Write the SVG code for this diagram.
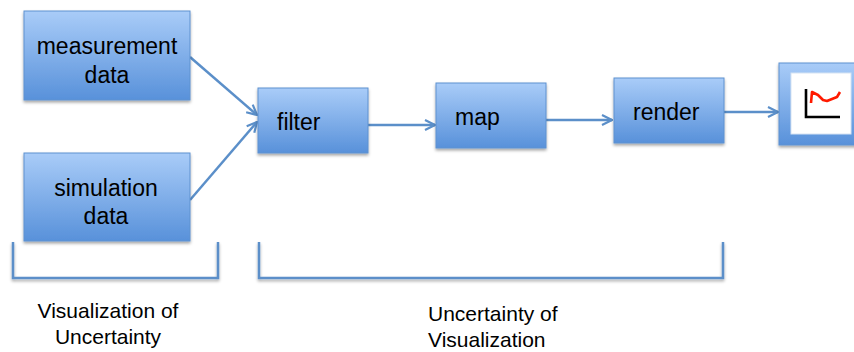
<svg xmlns="http://www.w3.org/2000/svg" width="854" height="352" viewBox="0 0 854 352">
<defs>
<linearGradient id="g" x1="0" y1="0" x2="0" y2="1">
<stop offset="0" stop-color="#a9ccf8"/>
<stop offset="1" stop-color="#5891da"/>
</linearGradient>
<filter id="sh" x="-10%" y="-10%" width="130%" height="140%">
<feDropShadow dx="0" dy="2" stdDeviation="1.5" flood-color="#000" flood-opacity="0.35"/>
</filter>
<marker id="ah" viewBox="0 0 12 12" refX="11" refY="6" markerWidth="12" markerHeight="12" markerUnits="userSpaceOnUse" orient="auto">
<path d="M1,1 L11,6 L1,11" fill="none" stroke="#5b8fc9" stroke-width="2.2"/>
</marker>
<style>
.box{fill:url(#g);stroke:#5e92d0;stroke-width:1;filter:url(#sh)}
.t{font-family:"Liberation Sans",Arial,sans-serif;font-size:23px;fill:#000}
.l{font-family:"Liberation Sans",Arial,sans-serif;font-size:21px;fill:#000}
.c{fill:none;stroke:#5b8fc9;stroke-width:2.5}
.br{fill:none;stroke:#5b8fc9;stroke-width:2.5;filter:url(#sh)}
</style>
</defs>
<g id="connectors">
<line class="c" x1="190" y1="57" x2="257" y2="115" marker-end="url(#ah)"/>
<line class="c" x1="190" y1="200" x2="257" y2="122" marker-end="url(#ah)"/>
<line class="c" x1="368" y1="125" x2="435" y2="125" marker-end="url(#ah)"/>
<line class="c" x1="546" y1="120" x2="612" y2="120" marker-end="url(#ah)"/>
<line class="c" x1="724" y1="112" x2="778" y2="112" marker-end="url(#ah)"/>
</g>
<g id="measurement">
<rect class="box" x="24" y="11" width="166" height="89"/>
<text class="t" x="107" y="54" text-anchor="middle">measurement</text>
<text class="t" x="107" y="83" text-anchor="middle">data</text>
</g>
<g id="simulation">
<rect class="box" x="24" y="153" width="166" height="88"/>
<text class="t" x="106" y="196" text-anchor="middle">simulation</text>
<text class="t" x="106" y="224" text-anchor="middle">data</text>
</g>
<g id="filter">
<rect class="box" x="258" y="88" width="110" height="65"/>
<text class="t" x="277" y="130">filter</text>
</g>
<g id="map">
<rect class="box" x="436" y="83" width="110" height="65"/>
<text class="t" x="455" y="125">map</text>
</g>
<g id="render">
<rect class="box" x="614" y="78" width="110" height="65"/>
<text class="t" x="633" y="120">render</text>
</g>
<g id="chart">
<rect class="box" x="779" y="63" width="90" height="82"/>
<rect x="791" y="73" width="60" height="61" fill="#fff" stroke="#d6e3f3" stroke-width="1"/>
<path d="M806,89 V117 H840" fill="none" stroke="#000" stroke-width="2.6"/>
<path d="M811,103 L812,92 L818,95 L823,100 L827,101 L837,97 L840,92" fill="none" stroke="#ff1a00" stroke-width="2.6" stroke-linejoin="round"/>
</g>
<g id="brackets">
<path class="br" d="M13,242 V278 H218 V242"/>
<path class="br" d="M259,242 V278 H723 V242"/>
</g>
<g id="labels">
<text class="l" x="108" y="318" text-anchor="middle">Visualization of</text>
<text class="l" x="108" y="344" text-anchor="middle">Uncertainty</text>
<text class="l" x="428" y="321">Uncertainty of</text>
<text class="l" x="428" y="347">Visualization</text>
</g>
</svg>
